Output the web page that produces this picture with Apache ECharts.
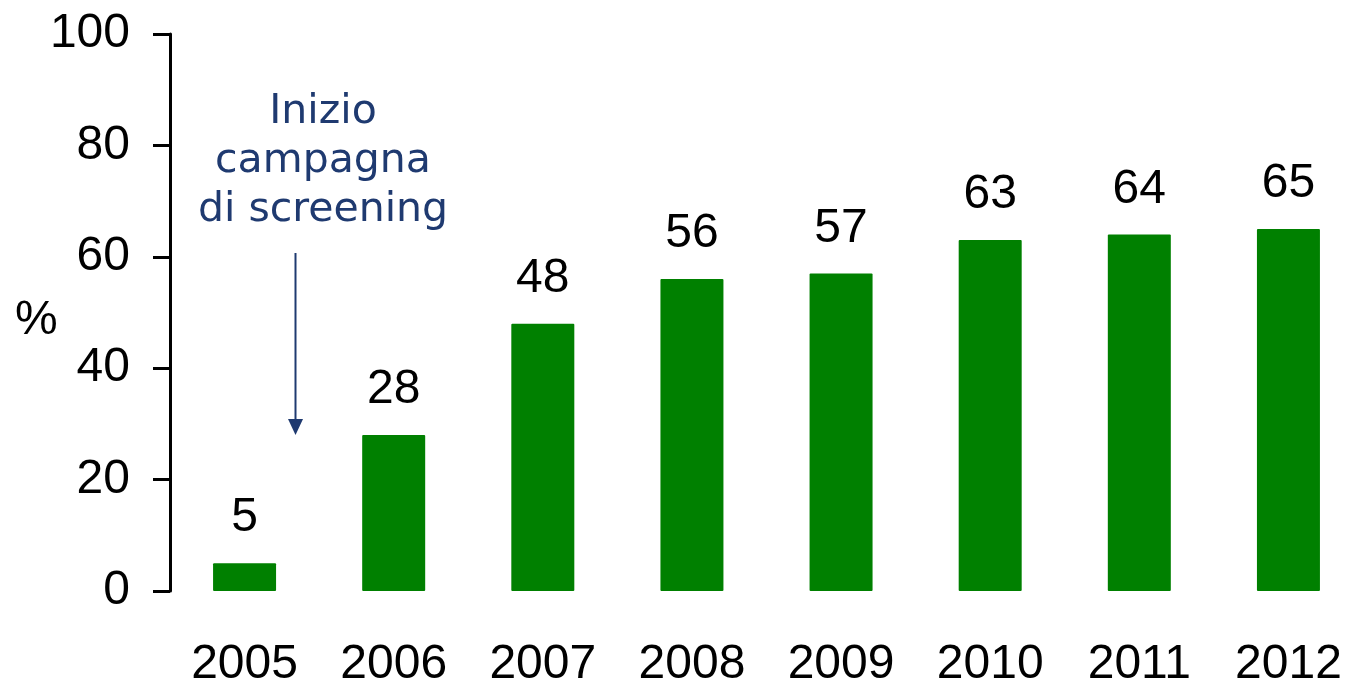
<!DOCTYPE html>
<html>
<head>
<meta charset="utf-8">
<script src="https://cdn.jsdelivr.net/npm/echarts@6/dist/echarts.min.js"></script>
<style>
  html, body { margin: 0; padding: 0; background: #fff; }
  #main { width: 1348px; height: 683px; }
</style>
</head>
<body>
<div id="main"></div>
<script>
// dati
var anni = ['2005', '2006', '2007', '2008', '2009', '2010', '2011', '2012'];
var valori = [5, 28, 48, 56, 57, 63, 64, 65];
var yTicks = [0, 20, 40, 60, 80, 100];
var nota = ['Inizio', 'campagna', 'di screening'];

var myChart = echarts.init(document.getElementById('main'));

var option = {
    animation: false,
    textStyle: { fontFamily: '"Liberation Sans", Arial, sans-serif' },
    grid: { left: 170, top: 34, width: 1193, height: 557, outerBoundsMode: 'none', containLabel: false },
    xAxis: {
        type: 'category',
        data: anni,
        axisLine: { show: false },
        axisTick: { show: false },
        axisLabel: { color: '#000', fontSize: 48, margin: 50 }
    },
    yAxis: {
        type: 'value',
        min: yTicks[0],
        max: yTicks[yTicks.length - 1],
        interval: 20,
        splitLine: { show: false },
        axisLine: { show: true, lineStyle: { color: '#000', width: 3 } },
        axisTick: { show: true, length: 17, lineStyle: { color: '#000', width: 3 } },
        axisLabel: { color: '#000', fontSize: 48, margin: 40 }
    },
    title: {
        text: '%',
        left: 10,
        top: 292,
        textStyle: { color: '#000', fontSize: 48, fontWeight: 'normal', fontFamily: '"Liberation Sans", Arial, sans-serif' }
    },
    graphic: [
        {
            type: 'text',
            x: 323,
            y: 161,
            style: {
                text: nota.join('\n'),
                fill: '#1f3a70',
                font: '41px "DejaVu Sans", Verdana, sans-serif',
                lineHeight: 49,
                align: 'center',
                verticalAlign: 'middle'
            }
        },
        {
            type: 'line',
            shape: { x1: 295.5, y1: 253, x2: 295.5, y2: 421 },
            style: { stroke: '#1f3a70', lineWidth: 2 }
        },
        {
            type: 'polygon',
            shape: { points: [[288, 419], [303, 419], [295.5, 435]] },
            style: { fill: '#1f3a70' }
        }
    ],
    series: [
        {
            type: 'bar',
            data: valori,
            barWidth: 63,
            itemStyle: { color: '#008000', borderRadius: 1 },
            label: {
                show: true,
                position: 'top',
                distance: 21,
                color: '#000',
                fontSize: 48
            }
        }
    ]
};

myChart.setOption(option);
</script>
</body>
</html>
